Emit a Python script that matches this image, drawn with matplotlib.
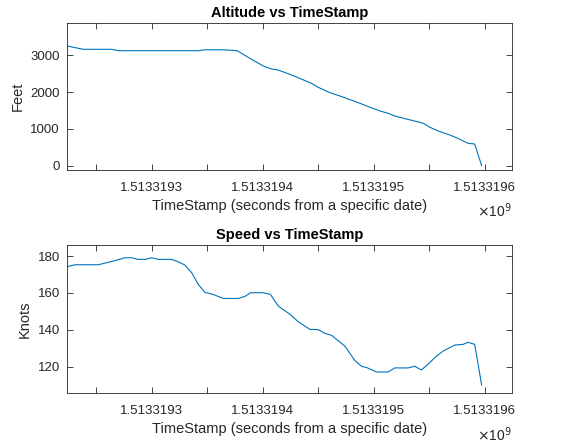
import matplotlib
matplotlib.use("Agg")
import matplotlib.pyplot as plt
from matplotlib.ticker import FixedLocator, FuncFormatter

# Altitude samples (timestamp in s, feet)
alt_time = [1513319223.7, 1513319238.4, 1513319264, 1513319270, 1513319342,
            1513319348, 1513319364.5, 1513319377, 1513319390, 1513319400.6,
            1513319408, 1513319414, 1513319426, 1513319444, 1513319450,
            1513319460.6, 1513319469.6, 1513319487.7, 1513319496.7,
            1513319505.7, 1513319513, 1513319519, 1513319544.7, 1513319550.7,
            1513319559.7, 1513319568.7, 1513319577.7, 1513319585, 1513319591,
            1513319597.3]
alt_feet = [3253, 3163, 3163, 3125, 3125, 3150, 3150, 3125, 2890, 2709,
            2627, 2600, 2465, 2239, 2130, 1984, 1894, 1695, 1587, 1486,
            1424, 1350, 1152, 1043, 924, 834, 717, 608, 590, 0]

# Speed samples (timestamp in s, knots)
spd_time = [1513319223.7, 1513319231, 1513319252, 1513319265.4, 1513319276,
            1513319282, 1513319288, 1513319294, 1513319300, 1513319306,
            1513319318, 1513319324, 1513319330, 1513319336, 1513319342,
            1513319348, 1513319355.5, 1513319364.5, 1513319378, 1513319384,
            1513319389, 1513319400.6, 1513319407, 1513319414, 1513319424.6,
            1513319432, 1513319442.6, 1513319450, 1513319456, 1513319462,
            1513319474, 1513319483, 1513319489, 1513319493.7, 1513319502.7,
            1513319513, 1513319519, 1513319531, 1513319537, 1513319543,
            1513319549, 1513319556.7, 1513319562.7, 1513319573, 1513319580.7,
            1513319585, 1513319591, 1513319597.3]
spd_knots = [174.2, 175.3, 175.3, 177.3, 179.1, 179.1, 178.2, 178.2, 179.1,
             178.2, 178.2, 176.9, 175.1, 171, 164.6, 160.3, 159.2, 157, 157,
             158.1, 160.1, 160.1, 159.2, 152.9, 148.4, 144.4, 140.2, 140.1,
             138.1, 137, 131.2, 123.4, 120.2, 119.5, 117.1, 117.1, 119.3,
             119.3, 120.2, 118.2, 121.3, 125.8, 128.5, 131.7, 132.1, 133.2,
             132.1, 110]

x_ticks = [1513319250, 1513319300, 1513319350, 1513319400, 1513319450,
           1513319500, 1513319550, 1513319600]
x_range = (1513319223.7, 1513319624.6)

line_color = "#0072BD"
axis_color = "#262626"

plt.rcParams["font.family"] = ["Liberation Sans", "DejaVu Sans"]


def tick_text(v, pos):
    # MATLAB only labelled every other tick here
    if round(v) % 100 != 0:
        return ""
    return "%.7f" % (v / 1e9)


def style_axes(ax, title, ylabel, yticks, ylim):
    ax.set_xlim(*x_range)
    ax.set_ylim(*ylim)
    ax.xaxis.set_major_locator(FixedLocator(x_ticks))
    ax.xaxis.set_major_formatter(FuncFormatter(tick_text))
    ax.set_yticks(yticks)
    ax.tick_params(direction="in", top=True, right=True, length=4,
                   width=0.6, colors=axis_color, labelsize=9.5)
    ax.tick_params(axis="x", pad=9)
    ax.tick_params(axis="y", pad=5)
    for s in ax.spines.values():
        s.set_color(axis_color)
        s.set_linewidth(0.6)
    ax.set_title(title, fontsize=10.5, fontweight="bold", color="black", pad=4)
    ax.set_ylabel(ylabel, fontsize=10.5, color=axis_color, labelpad=4)
    ax.set_xlabel("TimeStamp (seconds from a specific date)", fontsize=10.5,
                  color=axis_color, labelpad=3)
    ax.text(1.0, -0.28, r"$\times$10$^9$", transform=ax.transAxes,
            ha="right", va="center", fontsize=10, color=axis_color)


fig = plt.figure(figsize=(5.71, 4.43), dpi=100)

ax1 = fig.add_axes([0.1173, 0.6163, 0.7793, 0.3318])
ax1.plot(alt_time, alt_feet, color=line_color, linewidth=0.8)
style_axes(ax1, "Altitude vs TimeStamp", "Feet", [0, 1000, 2000, 3000],
           (-117, 3878))

ax2 = fig.add_axes([0.1173, 0.1129, 0.7793, 0.3340])
ax2.plot(spd_time, spd_knots, color=line_color, linewidth=0.8)
style_axes(ax2, "Speed vs TimeStamp", "Knots", [120, 140, 160, 180],
           (105.7, 186))

fig.savefig("out.png", dpi=100)
